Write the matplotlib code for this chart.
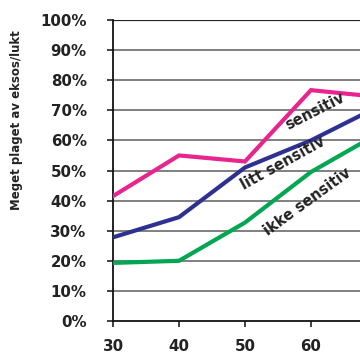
import matplotlib.pyplot as plt

plt.rcParams['font.family'] = ['DejaVu Sans']
plt.rcParams['font.weight'] = 'bold'

# Andel plaget av eksos/lukt etter alder og sensitivitet
alder = [30, 40, 50, 60, 70]
sensitiv = [41.5, 55, 53, 76.7, 74.5]
litt_sensitiv = [27.8, 34.5, 51, 60, 71]
ikke_sensitiv = [19.3, 20, 32.7, 49.5, 62]

yticks = list(range(0, 101, 10))
xticks = [30, 40, 50, 60]

fig = plt.figure(figsize=(3.6, 3.56), dpi=100)
ax = fig.add_axes([0.314, 0.0983, 0.733, 0.8455])

for y in yticks[1:-1]:
    ax.axhline(y, color='#808080', lw=1.4, zorder=1)
ax.axhline(100, color='#222222', lw=1.6, zorder=1)

ax.plot(alder, sensitiv, color='#E8258F', lw=3, zorder=3, solid_joinstyle='miter')
ax.plot(alder, litt_sensitiv, color='#2E3192', lw=3, zorder=3, solid_joinstyle='miter')
ax.plot(alder, ikke_sensitiv, color='#00A651', lw=3, zorder=3, solid_joinstyle='miter')

ax.set_xlim(30, 70)
ax.set_ylim(0, 100)
ax.set_xticks(xticks)
ax.set_xticklabels([str(x) for x in xticks])
ax.set_yticks(yticks)
ax.set_yticklabels([f'{y}%' for y in yticks])
ax.tick_params(axis='y', direction='out', length=4, width=1.2, pad=15,
               labelsize=10.8, colors='#222222')
ax.tick_params(axis='x', direction='out', length=4, width=1.2, pad=9,
               labelsize=10.8, colors='#222222')
for lab in ax.get_xticklabels() + ax.get_yticklabels():
    lab.set_fontweight('bold')

for s in ['top', 'right']:
    ax.spines[s].set_visible(False)
for s in ['left', 'bottom']:
    ax.spines[s].set_linewidth(1.3)
    ax.spines[s].set_color('#111111')

fig.text(0.047, 0.663, 'Meget plaget av eksos/lukt', rotation=90,
         fontsize=8.5, fontweight='bold', ha='center', va='center',
         color='#222222')

ax.text(60.6, 69.8, 'sensitiv', rotation=27, fontsize=10.5, fontweight='bold',
        ha='center', va='center', color='#222222', zorder=4)
ax.text(55.8, 52.5, 'litt sensitiv', rotation=29, fontsize=10.5, fontweight='bold',
        ha='center', va='center', color='#222222', zorder=4)
ax.text(59.4, 39.5, 'ikke sensitiv', rotation=36, fontsize=10.5, fontweight='bold',
        ha='center', va='center', color='#222222', zorder=4)

fig.savefig('out.png', dpi=100)
